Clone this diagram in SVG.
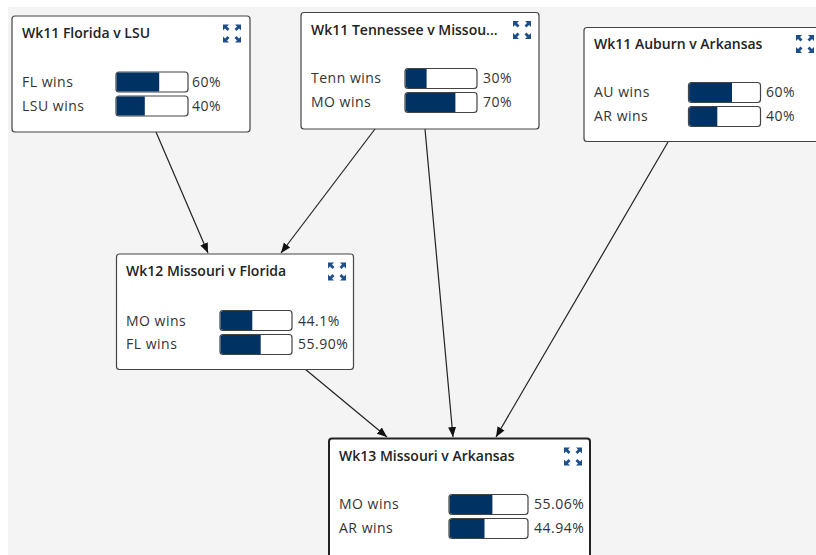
<svg xmlns="http://www.w3.org/2000/svg" width="816" height="555" viewBox="0 0 816 555">
<defs>
<style>
.node{fill:#fff;stroke:#444;stroke-width:1.2}
.sel{fill:#fff;stroke:#222;stroke-width:2}
.title{font-family:"Open Sans","Noto Sans",sans-serif;font-size:14px;font-weight:600;fill:#222}
.lbl{font-family:"Open Sans","Noto Sans",sans-serif;font-size:14px;letter-spacing:0.5px;fill:#333}
.bar{fill:#fff;stroke:#444;stroke-width:1.2}
.fill{fill:#003263}
.edge{stroke:#222;stroke-width:1.2;fill:none}
.ic{fill:#1f4f8a}
</style>
<marker id="ah" viewBox="0 0 10 10" refX="10" refY="5" markerWidth="10" markerHeight="10" markerUnits="userSpaceOnUse" orient="auto">
<path d="M0,1 L10,5 L0,9 Z" fill="#111"/>
</marker>
<g id="exp">
<path class="ic" d="M0,0 L6,0 L4,2 L6.5,4.5 L4.5,6.5 L2,4 L0,6 Z"/>
<path class="ic" d="M18,0 L12,0 L14,2 L11.5,4.5 L13.5,6.5 L16,4 L18,6 Z"/>
<path class="ic" d="M0,18 L6,18 L4,16 L6.5,13.5 L4.5,11.5 L2,14 L0,12 Z"/>
<path class="ic" d="M18,18 L12,18 L14,16 L11.5,13.5 L13.5,11.5 L16,14 L18,12 Z"/>
</g>
</defs>
<rect x="0" y="0" width="816" height="555" fill="#fff"/>
<rect x="8" y="7" width="808" height="548" fill="#f4f4f4"/>

<g id="connectors">
<line class="edge" x1="156" y1="132" x2="208" y2="253" marker-end="url(#ah)"/>
<line class="edge" x1="375" y1="129" x2="281" y2="253" marker-end="url(#ah)"/>
<line class="edge" x1="425" y1="129" x2="453" y2="437" marker-end="url(#ah)"/>
<line class="edge" x1="668" y1="142" x2="496" y2="437" marker-end="url(#ah)"/>
<line class="edge" x1="305" y1="369" x2="387" y2="437" marker-end="url(#ah)"/>
</g>

<g id="node-wk11-fl-lsu">
<rect class="node" x="12" y="16" width="238" height="116" rx="3"/>
<text class="title" x="22" y="38">Wk11 Florida v LSU</text>
<use href="#exp" x="223" y="24.5"/>
<text class="lbl" x="22" y="87">FL wins</text>
<rect class="bar" x="116" y="72" width="72" height="20" rx="3"/>
<path class="fill" d="M119,72.6 H159.2 V91.4 H119 Q116.6,91.4 116.6,89 V75 Q116.6,72.6 119,72.6 Z"/>
<text class="lbl" x="192" y="87">60%</text>
<text class="lbl" x="22" y="111">LSU wins</text>
<rect class="bar" x="116" y="96" width="72" height="20" rx="3"/>
<path class="fill" d="M119,96.6 H144.8 V115.4 H119 Q116.6,115.4 116.6,113 V99 Q116.6,96.6 119,96.6 Z"/>
<text class="lbl" x="192" y="111">40%</text>
</g>

<g id="node-wk11-tenn-mo">
<rect class="node" x="301" y="12.5" width="238" height="116.5" rx="3"/>
<text class="title" x="311" y="35">Wk11 Tennessee v Missou...</text>
<use href="#exp" x="513" y="21"/>
<text class="lbl" x="311" y="83">Tenn wins</text>
<rect class="bar" x="405" y="68.5" width="72" height="20" rx="3"/>
<path class="fill" d="M408,69.1 H426.6 V87.9 H408 Q405.6,87.9 405.6,85.5 V71.5 Q405.6,69.1 408,69.1 Z"/>
<text class="lbl" x="483" y="83">30%</text>
<text class="lbl" x="311" y="107">MO wins</text>
<rect class="bar" x="405" y="92.5" width="72" height="20" rx="3"/>
<path class="fill" d="M408,93.1 H455.4 V111.9 H408 Q405.6,111.9 405.6,109.5 V95.5 Q405.6,93.1 408,93.1 Z"/>
<text class="lbl" x="483" y="107">70%</text>
</g>

<g id="node-wk11-au-ar">
<rect class="node" x="584" y="27.5" width="238" height="114" rx="3"/>
<text class="title" x="594" y="49">Wk11 Auburn v Arkansas</text>
<use href="#exp" x="796" y="35"/>
<text class="lbl" x="594" y="97">AU wins</text>
<rect class="bar" x="688.5" y="82.5" width="72" height="20" rx="3"/>
<path class="fill" d="M691.5,83.1 H732 V101.9 H691.5 Q689.1,101.9 689.1,99.5 V85.5 Q689.1,83.1 691.5,83.1 Z"/>
<text class="lbl" x="766" y="97">60%</text>
<text class="lbl" x="594" y="121">AR wins</text>
<rect class="bar" x="688.5" y="106.5" width="72" height="20" rx="3"/>
<path class="fill" d="M691.5,107.1 H717.3 V125.9 H691.5 Q689.1,125.9 689.1,123.5 V109.5 Q689.1,107.1 691.5,107.1 Z"/>
<text class="lbl" x="766" y="121">40%</text>
</g>

<g id="node-wk12-mo-fl">
<rect class="node" x="116.5" y="254" width="237" height="115.5" rx="3"/>
<text class="title" x="126" y="276">Wk12 Missouri v Florida</text>
<use href="#exp" x="328" y="262.5"/>
<text class="lbl" x="126" y="326">MO wins</text>
<rect class="bar" x="220" y="310.5" width="72" height="20" rx="3"/>
<path class="fill" d="M223,311.1 H252.3 V329.9 H223 Q220.6,329.9 220.6,327.5 V313.5 Q220.6,311.1 223,311.1 Z"/>
<text class="lbl" x="298" y="326">44.1%</text>
<text class="lbl" x="126" y="349">FL wins</text>
<rect class="bar" x="220" y="334.5" width="72" height="20" rx="3"/>
<path class="fill" d="M223,335.1 H260.7 V353.9 H223 Q220.6,353.9 220.6,351.5 V337.5 Q220.6,335.1 223,335.1 Z"/>
<text class="lbl" x="298" y="349">55.90%</text>
</g>

<g id="node-wk13-mo-ar">
<rect class="sel" x="329" y="438.5" width="261" height="122" rx="3"/>
<text class="title" x="339" y="461">Wk13 Missouri v Arkansas</text>
<use href="#exp" x="564" y="447.5"/>
<text class="lbl" x="339" y="509">MO wins</text>
<rect class="bar" x="449" y="494.5" width="79" height="20" rx="3"/>
<path class="fill" d="M452,495.1 H492.4 V513.9 H452 Q449.6,513.9 449.6,511.5 V497.5 Q449.6,495.1 452,495.1 Z"/>
<text class="lbl" x="534" y="509">55.06%</text>
<text class="lbl" x="339" y="533">AR wins</text>
<rect class="bar" x="449" y="518.5" width="79" height="20" rx="3"/>
<path class="fill" d="M452,519.1 H484.5 V537.9 H452 Q449.6,537.9 449.6,535.5 V521.5 Q449.6,519.1 452,519.1 Z"/>
<text class="lbl" x="534" y="533">44.94%</text>
</g>
</svg>
